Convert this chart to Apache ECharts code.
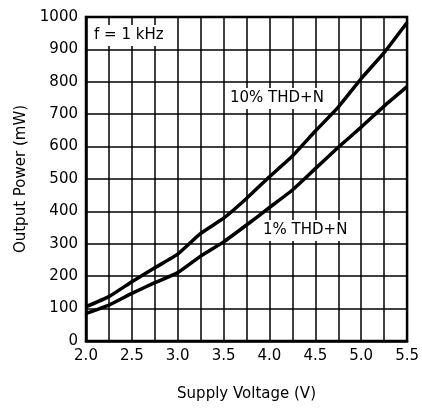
<!DOCTYPE html>
<html><head><meta charset="utf-8">
<script src="https://cdn.jsdelivr.net/npm/echarts@6/dist/echarts.min.js"></script>
<style>html,body{margin:0;padding:0;background:#fff}#c{width:422px;height:410px}</style>
</head><body><div id="c"></div>
<script>
var voltage = [2.0, 2.25, 2.5, 2.75, 3.0, 3.25, 3.5, 3.75, 4.0, 4.25, 4.5, 4.75, 5.0, 5.25, 5.5];
var thd10 = [106, 137, 183, 226, 268, 332, 379, 440, 507, 571, 648, 722, 810, 890, 983];
var thd1 = [85, 111, 147, 180, 211, 262, 306, 358, 412, 466, 532, 598, 660, 725, 785];
var xTicks = ['2.0','2.5','3.0','3.5','4.0','4.5','5.0','5.5'];

var FONT = 'DejaVu Sans';
function pairs(xs, ys){ return xs.map(function(x,i){return [x, ys[i]];}); }
var chart = echarts.init(document.getElementById('c'), null, {renderer:'canvas'});
chart.setOption({
  animation: false,
  backgroundColor: '#fff',
  grid: {left: 86, right: 13, top: 17, bottom: 69, show: true, borderColor: '#000', borderWidth: 2.5, backgroundColor: 'transparent'},
  xAxis: {
    type: 'value', min: 2.0, max: 5.5, interval: 0.25,
    name: 'Supply Voltage (V)', nameLocation: 'middle', nameGap: 46,
    nameTextStyle: {fontFamily: FONT, fontSize: 15, color: '#000'},
    axisLine: {show: true, lineStyle: {color: '#000', width: 2.5}},
    axisTick: {show: false},
    axisLabel: {
      fontFamily: FONT, fontSize: 15, color: '#000', margin: 8,
      formatter: function(v){ var s = v.toFixed(1); return xTicks.indexOf(s) >= 0 && Math.abs(v*2-Math.round(v*2))<1e-6 ? s : ''; }
    },
    splitLine: {show: true, lineStyle: {color: '#000', width: 1.5}}
  },
  yAxis: {
    type: 'value', min: 0, max: 1000, interval: 100,
    name: 'Output Power (mW)', nameLocation: 'middle', nameGap: 50,
    nameTextStyle: {fontFamily: FONT, fontSize: 15, color: '#000'},
    axisLine: {show: true, lineStyle: {color: '#000', width: 2.5}},
    axisTick: {show: false},
    axisLabel: {fontFamily: FONT, fontSize: 15, color: '#000', margin: 8, formatter: function(v){ return String(v); }},
    splitLine: {show: true, lineStyle: {color: '#000', width: 1.5}}
  },
  series: [
    {type: 'line', name: '10% THD+N', data: pairs(voltage, thd10), showSymbol: false, smooth: 0.15,
     lineStyle: {color: '#000', width: 3.5}, z: 5},
    {type: 'line', name: '1% THD+N', data: pairs(voltage, thd1), showSymbol: false, smooth: 0.15,
     lineStyle: {color: '#000', width: 3.5}, z: 5}
  ],
  graphic: [
    {type: 'text', left: 90, top: 25, z: 10, style: {text: 'f = 1 kHz', fontFamily: FONT, fontSize: 15, fill: '#000', backgroundColor: '#fff', padding: [3, 6, 3, 4]}},
    {type: 'text', left: 226, top: 88, z: 10, style: {text: '10% THD+N', fontFamily: FONT, fontSize: 15, fill: '#000', backgroundColor: '#fff', padding: [3, 4, 3, 4]}},
    {type: 'text', left: 259, top: 220, z: 10, style: {text: '1% THD+N', fontFamily: FONT, fontSize: 15, fill: '#000', backgroundColor: '#fff', padding: [3, 4, 3, 4]}}
  ]
});
</script></body></html>
